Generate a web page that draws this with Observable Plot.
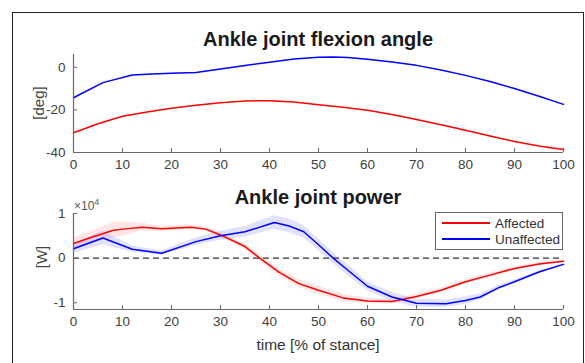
<!DOCTYPE html>
<html><head><meta charset="utf-8">
<script src="https://cdn.jsdelivr.net/npm/d3@7"></script>
<script src="https://cdn.jsdelivr.net/npm/@observablehq/plot@0.6"></script>
<style>
body{margin:0;background:#fff;font-family:"Liberation Sans",Arial,sans-serif;}
#wrap{position:relative;width:585px;height:363px;overflow:hidden;background:#fff}
.frame{position:absolute;left:12px;top:12px;width:572px;height:400px;border:1.5px solid #222;box-sizing:border-box}
.abs{position:absolute;white-space:nowrap}
.title{font-weight:bold;font-size:20px;color:#1a1a1a;transform:translate(-50%,-50%)}
.ylab{font-size:15px;color:#444;transform:translate(-50%,-50%) rotate(-90deg)}
.chart{position:absolute;left:0}
.legend{position:absolute;left:435px;top:212px;width:128px;height:38px;border:1px solid #666;background:#fff;box-sizing:border-box;font-size:13.5px;color:#333}
.legend .row{position:absolute;left:6px;height:16px;display:flex;align-items:center}
.legend .sw{width:48px;height:1.6px;margin-right:5px}
</style></head>
<body>
<div id="wrap">
  <div class="frame"></div>
  <div id="c1" class="chart" style="top:0"></div>
  <div id="c2" class="chart" style="top:180px"></div>
  <div class="abs title" style="left:318px;top:39px">Ankle joint flexion angle</div>
  <div class="abs title" style="left:318px;top:197px">Ankle joint power</div>
  <div class="abs ylab" style="left:38px;top:103px">[deg]</div>
  <div class="abs ylab" style="left:41px;top:257px">[W]</div>
  <div class="abs" style="left:74px;top:197px;font-size:12px;color:#555">×10<sup style="font-size:9px">4</sup></div>
  <div class="abs" style="left:318px;top:345px;transform:translate(-50%,-50%);font-size:15.5px;color:#333">time [% of stance]</div>
  <div class="legend">
    <div class="row" style="top:2px"><div class="sw" style="background:#ff0000"></div>Affected</div>
    <div class="row" style="top:18px"><div class="sw" style="background:#0000ff"></div>Unaffected</div>
  </div>
</div>
<script>
// ---- data ----
const xTicks = [0,10,20,30,40,50,60,70,80,90,100];
const angleTicks = [-40,-20,0];
const powerTicks = [-1,0,1];

const angleT_U = [0,6,12,16,20,25,30,35,40,45,50,53,56,60,65,70,75,80,85,90,95,100];
const angleUnaffected = [-14.3,-7.2,-3.6,-3.1,-2.8,-2.4,-0.8,0.8,2.4,3.9,4.7,4.8,4.6,3.8,2.5,0.9,-1.3,-3.8,-6.7,-10,-13.6,-17.4];
const angleT_A = [0,5,10,15,20,25,30,35,40,45,50,55,60,65,70,75,80,85,90,95,100];
const angleAffected = [-30.7,-26.5,-23,-21,-19.2,-17.8,-16.6,-15.8,-15.7,-16.3,-17.6,-18.8,-20.2,-22.2,-24.5,-27,-29.6,-32.3,-34.8,-36.9,-38.6];

// power in units of 1e4 W
const powerT_A = [0,4,8,10,14,18,24,27,30,35,38,42,46,50,55,60,65,70,75,80,85,90,95,100];
const powerAffected = [0.33,0.48,0.62,0.65,0.69,0.66,0.69,0.65,0.52,0.26,0.0,-0.32,-0.57,-0.72,-0.89,-0.96,-0.97,-0.86,-0.72,-0.53,-0.38,-0.23,-0.13,-0.07];
const powerAffectedSD = [0.12,0.14,0.17,0.16,0.09,0.05,0.05,0.05,0.05,0.06,0.07,0.08,0.09,0.09,0.08,0.06,0.05,0.05,0.05,0.05,0.05,0.04,0.04,0.03];
const powerT_U = [0,6,12,18,25,30,35,41,44,47,50,53,56,60,65,70,76,80,83,87,90,95,100];
const powerUnaffected = [0.21,0.45,0.2,0.11,0.37,0.5,0.59,0.8,0.72,0.59,0.3,0,-0.27,-0.63,-0.87,-1.01,-1.02,-0.95,-0.87,-0.65,-0.53,-0.31,-0.14];
const powerUnaffectedSD = [0.1,0.15,0.07,0.05,0.08,0.1,0.12,0.15,0.15,0.14,0.13,0.12,0.12,0.1,0.1,0.09,0.08,0.08,0.07,0.05,0.04,0.03,0.02];

const RED = "#ff0000", BLUE = "#0000ff";
const axisLine = "#6a6a6a", tickText = "#404040";
const font = "'Liberation Sans', Arial, sans-serif";

const zip = (t, v, sd) => t.map((x, i) => ({t: x, v: v[i], lo: sd ? v[i] - sd[i] : null, hi: sd ? v[i] + sd[i] : null}));

const angA = zip(angleT_A, angleAffected);
const angU = zip(angleT_U, angleUnaffected);
const powA = zip(powerT_A, powerAffected, powerAffectedSD);
const powU = zip(powerT_U, powerUnaffected, powerUnaffectedSD);

const fmt = d => String(d);

const chart1 = Plot.plot({
  width: 585, height: 180,
  marginLeft: 73, marginRight: 22, marginTop: 54, marginBottom: 28,
  x: {domain: [0, 100]},
  y: {domain: [-40, 6]},
  style: {fontFamily: font, fontSize: "13.5px", background: "transparent", overflow: "visible"},
  marks: [
    Plot.lineY(angU, {x: "t", y: "v", stroke: BLUE, strokeWidth: 1.5}),
    Plot.lineY(angA, {x: "t", y: "v", stroke: RED, strokeWidth: 1.5}),
    Plot.ruleX([0], {stroke: axisLine, strokeWidth: 1.2}),
    Plot.ruleY([-40], {stroke: axisLine, strokeWidth: 1.2}),
    Plot.axisX({ticks: xTicks, tickSize: -4, tickPadding: 11, tickFormat: fmt, label: null, stroke: axisLine, fill: tickText}),
    Plot.axisY({ticks: angleTicks, tickSize: -4, tickPadding: 12, tickFormat: fmt, label: null, stroke: axisLine, fill: tickText})
  ]
});
document.getElementById("c1").append(chart1);

const chart2 = Plot.plot({
  width: 585, height: 183,
  marginLeft: 73, marginRight: 22, marginTop: 33, marginBottom: 54,
  x: {domain: [0, 100]},
  y: {domain: [-1.15, 1]},
  style: {fontFamily: font, fontSize: "13.5px", background: "transparent", overflow: "visible"},
  marks: [
    Plot.areaY(powA, {x: "t", y1: "lo", y2: "hi", fill: RED, fillOpacity: 0.1}),
    Plot.areaY(powU, {x: "t", y1: "lo", y2: "hi", fill: BLUE, fillOpacity: 0.12}),
    Plot.ruleY([0], {stroke: "#333", strokeDasharray: "6,4", strokeWidth: 1.1}),
    Plot.lineY(powA, {x: "t", y: "v", stroke: RED, strokeWidth: 1.5}),
    Plot.lineY(powU, {x: "t", y: "v", stroke: BLUE, strokeWidth: 1.5}),
    Plot.ruleX([0], {stroke: axisLine, strokeWidth: 1.2}),
    Plot.ruleY([-1.15], {stroke: axisLine, strokeWidth: 1.2}),
    Plot.axisX({ticks: xTicks, tickSize: -4, tickPadding: 11, tickFormat: fmt, label: null, stroke: axisLine, fill: tickText}),
    Plot.axisY({ticks: powerTicks, tickSize: -4, tickPadding: 12, tickFormat: fmt, label: null, stroke: axisLine, fill: tickText})
  ]
});
document.getElementById("c2").append(chart2);
</script>
</body></html>
